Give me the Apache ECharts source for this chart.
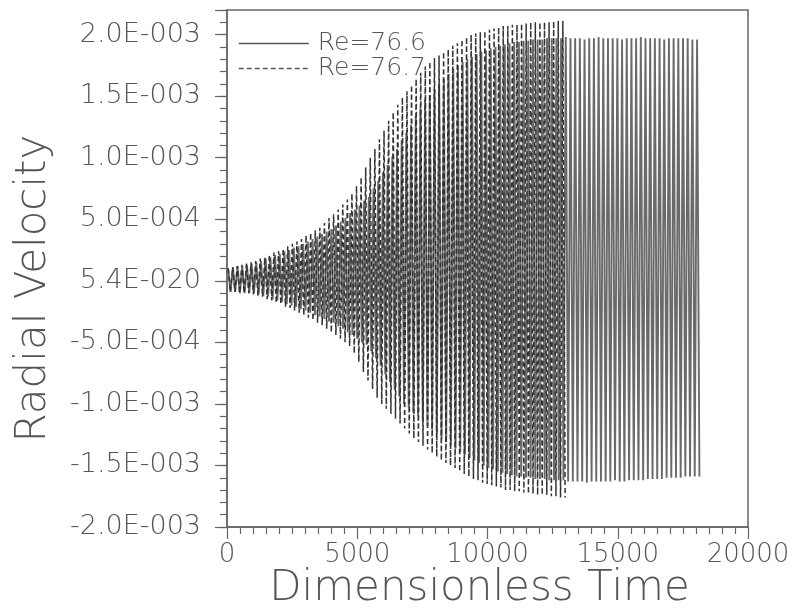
<!DOCTYPE html>
<html><head><meta charset="utf-8">
<script src="https://cdn.jsdelivr.net/npm/echarts@6/dist/echarts.min.js"></script>
<style>html,body{margin:0;padding:0;background:#fff}#c{width:795px;height:615px}</style>
</head><body><div id="c"></div>
<script>
// values in units of 1e-5
const valueUnit = 1e-5;
// time length of one oscillation cycle
const solidStep = 180;   // Re=76.6
const dashedStep = 176;  // Re=76.7

// per-cycle maxima / minima, Re=76.6 (solid), t = 0 .. ~18200
const solidMax = [10,11,12,12,13,14,15,16,18,19, 21,22,24,25,27,28,30,32,34,36,
  38,40,42,45,48,51,55,58,61,65, 68,75,81,88,94,101,107,114,120,127,
  134,140,147,151,155,160,164,168,172,175, 178,180,182,184,186,187,189,190,191,192,
  193,194,194,195,195,196,196,196,197,197,
  197,197,198,197,197,197,196,197,197,198, 197,197,197,197,196,197,197,197,198,197,
  197,197,197,196,197,197,197,197,197,196, 196];
const solidMin = [-9,-9,-10,-10,-10,-10,-11,-12,-13,-15, -16,-17,-19,-20,-21,-23,-24,-26,-28,-29,
  -31,-33,-34,-37,-39,-42,-44,-47,-50,-52, -57,-63,-69,-76,-82,-88,-94,-100,-103,-107,
  -110,-114,-117,-121,-125,-128,-131,-134,-136,-139, -141,-144,-146,-148,-150,-152,-153,-155,-156,-157,
  -158,-159,-159,-160,-160,-161,-161,-161,-162,-162,
  -162,-162,-163,-163,-163,-163,-164,-163,-163,-163, -163,-163,-162,-163,-163,-162,-162,-162,-162,-161,
  -161,-161,-161,-160,-160,-160,-160,-159,-159,-159, -159];

// per-cycle maxima / minima, Re=76.7 (dashed), t = 0 .. ~13000
const dashedMax = [10,11,12,13,14,15,16,18,19,21, 23,24,26,28,30,32,34,37,39,41,
  43,47,51,54,58,62,66,71,77,84, 92,100,107,115,122,130,137,143,149,154,
  159,164,169,174,178,181,183,186,188,191, 193,196,198,200,201,202,203,204,205,206,
  207,207,208,208,209,209,210,210,210,210, 210,211,211,211];
const dashedMin = [-9,-9,-10,-10,-10,-11,-12,-13,-15,-16, -18,-19,-21,-22,-24,-26,-28,-30,-32,-34,
  -36,-39,-42,-44,-47,-50,-53,-59,-66,-74, -81,-88,-95,-100,-104,-108,-112,-116,-120,-124,
  -128,-131,-134,-137,-140,-143,-146,-148,-150,-152, -155,-157,-159,-161,-162,-164,-165,-166,-167,-168,
  -170,-170,-171,-171,-172,-173,-173,-174,-174,-174, -175,-175,-176,-176];

const seriesNames = ['Re=76.6', 'Re=76.7'];
const yTickLabels = ['-2.0E-003','-1.5E-003','-1.0E-003','-5.0E-004','5.4E-020','5.0E-004','1.0E-003','1.5E-003','2.0E-003'];

function buildCycles(maxArr, minArr, step) {
  const out = [];
  for (let k = 0; k < maxArr.length; k++) {
    out.push([k * step + step / 4, maxArr[k] * valueUnit]);
    out.push([k * step + 3 * step / 4, minArr[k] * valueUnit]);
  }
  return out;
}
const solidData = buildCycles(solidMax, solidMin, solidStep);
const dashedData = buildCycles(dashedMax, dashedMin, dashedStep);

const FONT = 'DejaVu Sans';
const AX = '#666';
const TXT = '#555';

const chart = echarts.init(document.getElementById('c'), null, {renderer: 'canvas'});
chart.setOption({
  animation: false,
  backgroundColor: '#fff',
  grid: {left: 227, right: 47, top: 10, bottom: 82, show: true, borderColor: AX, borderWidth: 1.5, containLabel: false},
  legend: {
    show: true, orient: 'vertical', left: 233, top: 26, itemWidth: 70, itemHeight: 14, itemGap: 0,
    data: seriesNames,
    textStyle: {fontFamily: FONT, fontWeight: 200, fontSize: 25, lineHeight: 25, color: TXT, padding: [0, 0, 0, 4]},
    lineStyle: {width: 1.5, color: '#555'},
    itemStyle: {opacity: 0}
  },
  xAxis: {
    type: 'value', min: 0, max: 20000, interval: 5000,
    axisLine: {show: true, onZero: false, lineStyle: {color: AX, width: 1.5}},
    axisTick: {show: true, inside: false, length: 12, lineStyle: {color: AX, width: 1.2}},
    minorTick: {show: true, splitNumber: 10, length: 7, lineStyle: {color: AX, width: 1.2}},
    axisLabel: {margin: 15, fontSize: 26, fontFamily: FONT, fontWeight: 200, color: TXT, formatter: v => String(v)},
    splitLine: {show: false},
    name: 'Dimensionless Time', nameLocation: 'middle', nameGap: 41, nameMoveOverlap: false,
    nameTextStyle: {fontSize: 42, fontFamily: FONT, fontWeight: 200, color: TXT, padding: [0, 16, 0, 0]}
  },
  yAxis: [{
    type: 'value', min: -0.002, max: 0.0022, interval: 0.0005,
    axisLine: {show: true, onZero: false, lineStyle: {color: AX, width: 1.5}},
    axisTick: {show: true, inside: false, length: 12, lineStyle: {color: AX, width: 1.2}},
    axisLabel: {margin: 26, fontSize: 27, fontFamily: FONT, fontWeight: 200, color: TXT,
      formatter: v => { const i = Math.round(v / 0.0005) + 4; return (Math.abs(v - (i - 4) * 0.0005) < 1e-9 && yTickLabels[i]) ? yTickLabels[i] : ''; }},
    splitLine: {show: false},
    name: 'Radial Velocity', nameLocation: 'middle', nameGap: 172, nameRotate: 90, nameMoveOverlap: false,
    nameTextStyle: {fontSize: 42, fontFamily: FONT, fontWeight: 200, color: TXT, padding: [0, 40, 0, 0]}
  }, {
    type: 'value', min: -0.002, max: 0.0022, interval: 0.0001, position: 'left',
    axisLine: {show: false}, axisLabel: {show: false}, splitLine: {show: false},
    axisTick: {show: true, inside: false, length: 7, lineStyle: {color: AX, width: 1.2}}
  }],
  series: [{
    name: seriesNames[0], type: 'line', data: solidData, symbol: 'none', showSymbol: false,
    sampling: null, clip: true, z: 2,
    lineStyle: {color: '#6a6a6a', width: 1.9, type: 'solid'}, itemStyle: {color: '#6a6a6a'}
  }, {
    name: seriesNames[1], type: 'line', data: dashedData, symbol: 'none', showSymbol: false,
    sampling: null, clip: true, z: 3,
    lineStyle: {color: '#333', width: 1.5, type: [5, 3]}, itemStyle: {color: '#333'}
  }]
});
</script></body></html>
